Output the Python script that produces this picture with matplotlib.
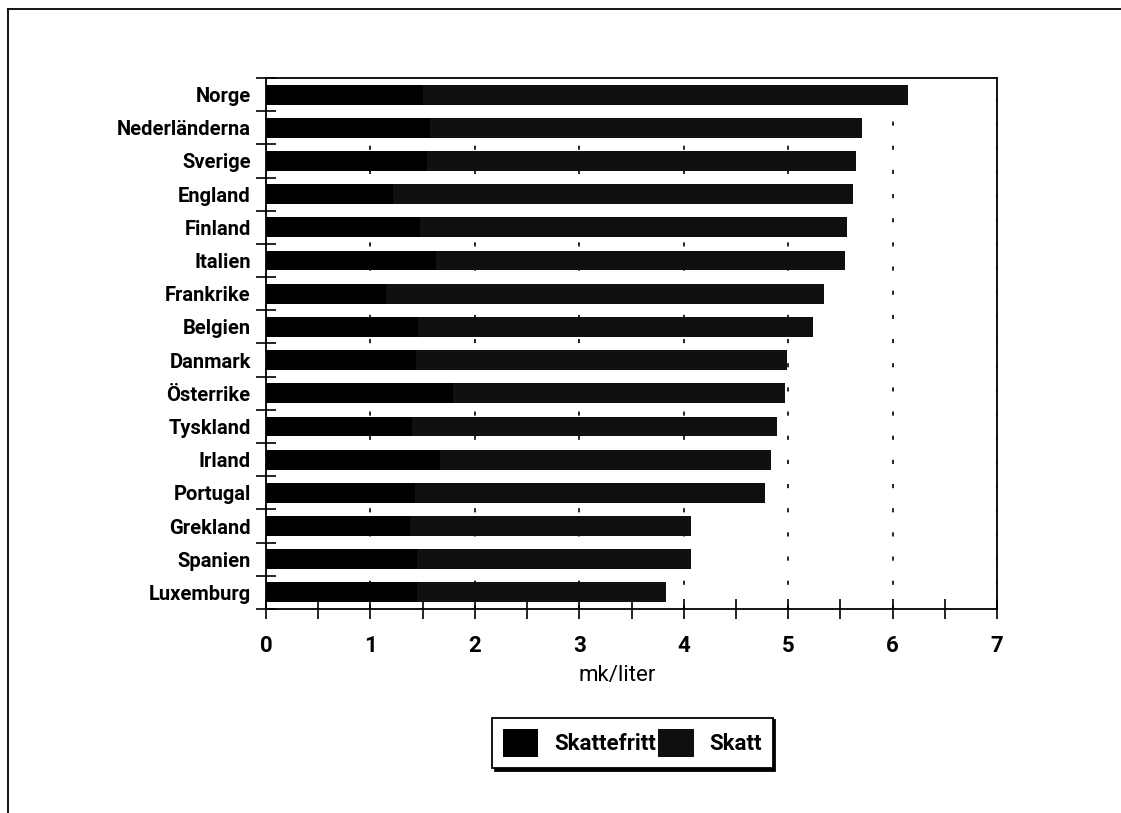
import matplotlib
matplotlib.use("Agg")
import matplotlib.pyplot as plt
from matplotlib.lines import Line2D
from matplotlib.ticker import MultipleLocator
import numpy as np

plt.rcParams['font.family'] = ['Roboto', 'DejaVu Sans']

# bensinpris per land, mk/liter
lander = ["Norge", "Nederländerna", "Sverige", "England", "Finland", "Italien",
          "Frankrike", "Belgien", "Danmark", "Österrike", "Tyskland", "Irland",
          "Portugal", "Grekland", "Spanien", "Luxemburg"]
skattefritt = [1.50, 1.57, 1.54, 1.22, 1.47, 1.63, 1.15, 1.46,
               1.44, 1.79, 1.40, 1.67, 1.43, 1.38, 1.45, 1.45]
skatt = [4.65, 4.14, 4.11, 4.40, 4.09, 3.91, 4.19, 3.78,
         3.55, 3.18, 3.49, 3.17, 3.35, 2.69, 2.62, 2.38]

fig = plt.figure(figsize=(11.21, 8.13), dpi=100)
ax = fig.add_axes([0.2373, 0.2509, 0.6521, 0.6532])

y = np.arange(len(lander))
ax.barh(y, skattefritt, height=0.6, color='black', label='Skattefritt', zorder=3)
ax.barh(y, skatt, left=skattefritt, height=0.6, color='#101010', label='Skatt', zorder=3)

ax.set_xlim(0, 7)
ax.set_ylim(len(lander) - 0.5, -0.5)
ax.set_yticks(y)
ax.set_yticklabels(lander, fontsize=14.5, fontweight='bold')
ax.yaxis.set_minor_locator(MultipleLocator(1, offset=0.5))
ax.tick_params(axis='y', which='major', length=0, pad=11)
ax.tick_params(axis='y', which='minor', direction='inout', length=14, width=1.2)

ax.xaxis.set_major_locator(MultipleLocator(1))
ax.xaxis.set_minor_locator(MultipleLocator(0.5))
ax.tick_params(axis='x', which='both', direction='inout', length=14, width=1.2)
ax.tick_params(axis='x', which='major', labelsize=16, pad=12)
for t in ax.get_xticklabels():
    t.set_fontweight('bold')

for s in ax.spines.values():
    s.set_linewidth(1.3)

ax.grid(axis='x', color='black', linewidth=1.2, linestyle=(0, (2.5, 12)), zorder=1)

ax.set_xlabel('mk/liter', fontsize=16)
ax.xaxis.set_label_coords(0.48, -0.105)

leg = fig.legend(loc='center', bbox_to_anchor=(0.564, 0.086), ncol=2,
                 prop={'weight': 'bold', 'size': 16},
                 handlelength=1.6, handleheight=1.6, handletextpad=0.7,
                 columnspacing=0.1, borderpad=0.5, borderaxespad=0,
                 fancybox=False, shadow={'color': 'black', 'alpha': 1})
leg.get_frame().set_edgecolor('black')
leg.get_frame().set_linewidth(1.3)

# ram runt hela figuren
fig.add_artist(Line2D([8 / 1121, 1.0], [1 - 9 / 813, 1 - 9 / 813],
                      transform=fig.transFigure, color='black', linewidth=1.3))
fig.add_artist(Line2D([8 / 1121, 8 / 1121], [0.0, 1 - 9 / 813],
                      transform=fig.transFigure, color='black', linewidth=1.3))

fig.savefig('out.png', dpi=100)
